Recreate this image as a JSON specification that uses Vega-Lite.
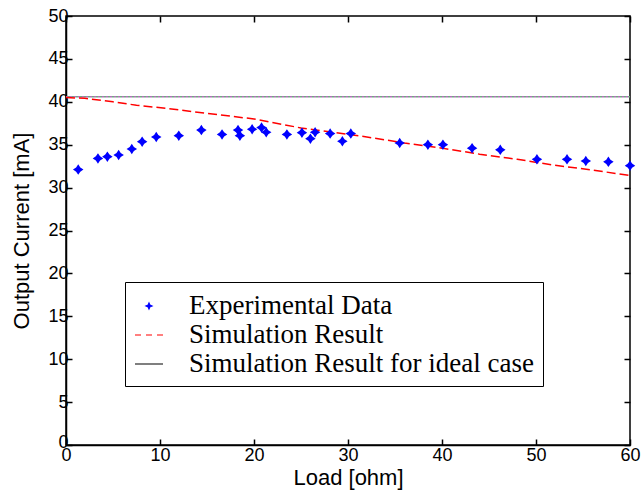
{
  "$schema": "https://vega.github.io/schema/vega-lite/v6.json",
  "width": 564,
  "height": 429,
  "autosize": {"type": "none"},
  "padding": {"left": 66, "top": 16, "right": 11, "bottom": 45},
  "background": "white",
  "config": {
    "view": {"stroke": "black", "strokeWidth": 1.5},
    "axis": {
      "grid": false,
      "domainColor": "black",
      "tickColor": "black",
      "labelColor": "black",
      "titleColor": "black",
      "labelFont": "Liberation Sans",
      "titleFont": "Liberation Sans",
      "labelFontSize": 18,
      "titleFontSize": 22,
      "titleFontWeight": "normal",
      "labelFlush": false,
      "labelOverlap": false,
      "tickSize": -6,
      "domainWidth": 1.5,
      "tickWidth": 1.5
    }
  },
  "datasets": {
    "exp": [
      {"load": 1.3, "current": 32.1, "series": "Experimental Data"},
      {"load": 3.4, "current": 33.4, "series": "Experimental Data"},
      {"load": 4.4, "current": 33.6, "series": "Experimental Data"},
      {"load": 5.6, "current": 33.8, "series": "Experimental Data"},
      {"load": 7.0, "current": 34.5, "series": "Experimental Data"},
      {"load": 8.1, "current": 35.35, "series": "Experimental Data"},
      {"load": 9.6, "current": 35.9, "series": "Experimental Data"},
      {"load": 12.0, "current": 36.05, "series": "Experimental Data"},
      {"load": 14.4, "current": 36.7, "series": "Experimental Data"},
      {"load": 16.6, "current": 36.2, "series": "Experimental Data"},
      {"load": 18.3, "current": 36.7, "series": "Experimental Data"},
      {"load": 18.5, "current": 36.05, "series": "Experimental Data"},
      {"load": 19.8, "current": 36.8, "series": "Experimental Data"},
      {"load": 20.8, "current": 37.0, "series": "Experimental Data"},
      {"load": 21.3, "current": 36.45, "series": "Experimental Data"},
      {"load": 23.5, "current": 36.2, "series": "Experimental Data"},
      {"load": 25.1, "current": 36.4, "series": "Experimental Data"},
      {"load": 26.0, "current": 35.7, "series": "Experimental Data"},
      {"load": 26.5, "current": 36.45, "series": "Experimental Data"},
      {"load": 28.1, "current": 36.3, "series": "Experimental Data"},
      {"load": 29.4, "current": 35.4, "series": "Experimental Data"},
      {"load": 30.3, "current": 36.3, "series": "Experimental Data"},
      {"load": 35.5, "current": 35.2, "series": "Experimental Data"},
      {"load": 38.5, "current": 35.0, "series": "Experimental Data"},
      {"load": 40.1, "current": 35.0, "series": "Experimental Data"},
      {"load": 43.2, "current": 34.6, "series": "Experimental Data"},
      {"load": 46.2, "current": 34.4, "series": "Experimental Data"},
      {"load": 50.1, "current": 33.3, "series": "Experimental Data"},
      {"load": 53.3, "current": 33.3, "series": "Experimental Data"},
      {"load": 55.3, "current": 33.1, "series": "Experimental Data"},
      {"load": 57.7, "current": 33.0, "series": "Experimental Data"},
      {"load": 60.0, "current": 32.55, "series": "Experimental Data"}
    ],
    "sim": [
      {"load": 0, "current": 40.5, "series": "Simulation Result"},
      {"load": 2, "current": 40.4, "series": "Simulation Result"},
      {"load": 5, "current": 40.0, "series": "Simulation Result"},
      {"load": 7.5, "current": 39.6, "series": "Simulation Result"},
      {"load": 11, "current": 39.2, "series": "Simulation Result"},
      {"load": 15, "current": 38.65, "series": "Simulation Result"},
      {"load": 20, "current": 38.0, "series": "Simulation Result"},
      {"load": 25, "current": 36.95, "series": "Simulation Result"},
      {"load": 28, "current": 36.5, "series": "Simulation Result"},
      {"load": 32, "current": 35.9, "series": "Simulation Result"},
      {"load": 36, "current": 35.2, "series": "Simulation Result"},
      {"load": 40, "current": 34.6, "series": "Simulation Result"},
      {"load": 44, "current": 33.9, "series": "Simulation Result"},
      {"load": 48, "current": 33.3, "series": "Simulation Result"},
      {"load": 52, "current": 32.6, "series": "Simulation Result"},
      {"load": 56, "current": 32.05, "series": "Simulation Result"},
      {"load": 60, "current": 31.4, "series": "Simulation Result"}
    ],
    "ideal": [
      {"load": 0, "current": 40.6, "series": "Simulation Result for ideal case"},
      {"load": 60, "current": 40.6, "series": "Simulation Result for ideal case"}
    ]
  },
  "resolve": {"axis": {"x": "independent", "y": "independent"}},
  "layer": [
    {
      "layer": [
        {
          "data": {"name": "ideal"},
          "mark": {"type": "line", "color": "#b070b8", "strokeWidth": 1.5, "strokeDash": [2, 2], "clip": true},
          "encoding": {
            "x": {"field": "load", "type": "quantitative"},
            "y": {"field": "current", "type": "quantitative"}
          }
        },
        {
          "data": {"name": "ideal"},
          "mark": {"type": "line", "color": "#70a880", "strokeWidth": 1.5, "strokeDash": [2, 2], "strokeDashOffset": 2, "clip": true},
          "encoding": {
            "x": {"field": "load", "type": "quantitative"},
            "y": {"field": "current", "type": "quantitative"}
          }
        },
        {
          "data": {"name": "sim"},
          "mark": {"type": "line", "strokeWidth": 1.5, "strokeDash": [9, 4]},
          "encoding": {
            "x": {"field": "load", "type": "quantitative"},
            "y": {"field": "current", "type": "quantitative"},
            "color": {"field": "series", "type": "nominal"}
          }
        },
        {
          "data": {"name": "exp"},
          "mark": {"type": "point", "filled": true, "opacity": 1, "size": 110, "shape": "M0,-1L0.4,-0.4L1,0L0.4,0.4L0,1L-0.4,0.4L-1,0L-0.4,-0.4Z"},
          "encoding": {
            "x": {
              "field": "load", "type": "quantitative",
              "scale": {"domain": [0, 60], "nice": false, "zero": false},
              "axis": {"values": [0, 10, 20, 30, 40, 50, 60], "title": "Load [ohm]", "labelPadding": 7, "titlePadding": 3}
            },
            "y": {
              "field": "current", "type": "quantitative",
              "scale": {"domain": [0, 50], "nice": false, "zero": false},
              "axis": {"values": [0, 5, 10, 15, 20, 25, 30, 35, 40, 45, 50], "title": "Output Current [mA]", "labelPadding": 4, "titlePadding": 14, "labelOffset": {"expr": "datum.value === 0 ? -3 : 0"}}
            },
            "color": {
              "field": "series", "type": "nominal",
              "scale": {
                "domain": ["Experimental Data", "Simulation Result", "Simulation Result for ideal case"],
                "range": ["#0000ff", "#ff0000", "#000000"]
              },
              "legend": {
                "title": null,
                "orient": "none",
                "legendX": 59,
                "legendY": 266,
                "direction": "vertical",
                "strokeColor": "black",
                "fillColor": "white",
                "padding": 9,
                "labelFont": "Liberation Serif",
                "labelFontSize": 27,
                "labelColor": "black",
                "labelLimit": 700,
                "labelOffset": 25,
                "rowPadding": 1,
                "labelExpr": "datum.label === 'Simulation Result for ideal case' ? datum.label + '\u00a0\u00a0\u00a0\u00a0\u00a0\u00a0' : datum.label",
                "symbolType": {"expr": "datum.value === 'Experimental Data' ? 'M0,-1L0.3,-0.3L1,0L0.3,0.3L0,1L-0.3,0.3L-1,0L-0.3,-0.3Z' : 'stroke'"},
                "symbolSize": {"expr": "datum.value === 'Experimental Data' ? 36 : 784"},
                "symbolDash": {"expr": "datum.value === 'Simulation Result' ? [6, 5] : [1, 0]"},
                "symbolStrokeWidth": 1.2,
                "symbolOpacity": 1
              }
            }
          }
        }
      ]
    },
    {
      "data": {"name": "ideal"},
      "mark": {"type": "point", "opacity": 0},
      "encoding": {
        "x": {
          "field": "load", "type": "quantitative",
          "axis": {"orient": "top", "values": [0, 10, 20, 30, 40, 50, 60], "labels": false, "title": null, "domain": false}
        },
        "y": {
          "field": "current", "type": "quantitative",
          "axis": {"orient": "right", "values": [0, 5, 10, 15, 20, 25, 30, 35, 40, 45, 50], "labels": false, "title": null, "domain": false}
        }
      }
    }
  ]
}
